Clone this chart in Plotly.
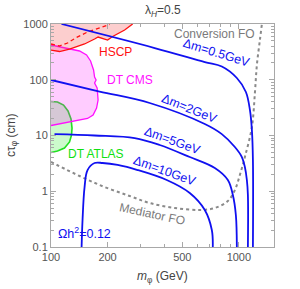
import plotly.graph_objects as go

# ---------------- data (m_phi in GeV, c*tau in cm) ----------------
dm05_m = [113.7, 356.5, 658.6, 811.6, 975.7, 1090, 1145, 1173, 1188, 1188]
dm05_ct = [1000, 371, 208, 172.8, 107.5, 60.3, 28.7, 12.55, 3.64, 0.1]

dm2_m = [100, 181.4, 335.2, 658.6, 811.6, 952.2, 1037.5, 1076.5, 1103, 1117, 1117]
dm2_ct = [99, 61.5, 38.3, 16.1, 10.6, 6.22, 4.11, 2.72, 1.59, 0.857, 0.1]

dm5_m = [104.4, 170.6, 278.8, 379, 547.8, 744.7, 873.7, 929, 963.8, 975.7]
dm5_ct = [10.6, 10, 9.0, 6.76, 4.11, 2.61, 1.59, 0.857, 0.375, 0.1]

dm10_m = [145.5, 147.2, 150.9, 156.5, 170.6, 188.2, 226.2, 289.3, 413, 547.8, 658.6, 717.8, 726.4]
dm10_ct = [0.1, 0.305, 1.19, 2.40, 3.21, 3.21, 2.96, 2.40, 1.59, 0.93, 0.461, 0.202, 0.1]

fo_m = [100, 141.9, 192.9, 262.2, 335.2, 455.7, 619.4, 744.7, 873.7, 952.2, 1012, 1076.5, 1173, 1217, 1247, 1294, 1326]
fo_ct = [3.35, 1.877, 1.19, 0.822, 0.615, 0.501, 0.461, 0.501, 0.668, 1.05, 1.95, 4.11, 14.2, 57.8, 184, 516, 1000]

hscp_m = [100, 111, 125.5, 150.9, 170.6, 178.1, 200.1, 212.8, 246.6, 272, 100]
hscp_ct = [341, 321, 356, 438, 538, 584, 516, 597, 780, 1000, 1000]

hscp_dash_m = [100, 111, 122.5, 135.1, 156.5, 181.4, 205.1]
hscp_dash_ct = [438, 403, 456, 561, 718, 848, 980]

cms_m = [100, 108.3, 125.5, 141.9, 154.6, 162.4, 168.5, 170.6, 173.8, 170.6, 176, 178.1,
         174.8, 167.5, 156.5, 125.5, 100]
cms_ct = [420, 395, 363.6, 328, 278, 217, 150, 112, 99, 87.4, 71.1, 43.3,
          31.1, 23.3, 20.2, 17.5, 15.1]

atlas_m = [100, 108.3, 116.6, 123.2, 127.8, 129.4, 128.6, 125.5, 118, 108.3, 100]
atlas_ct = [40.7, 39.9, 35.2, 27.5, 19.8, 13.6, 10.2, 7.65, 5.97, 5.27, 4.96]

x_major = [100, 200, 500, 1000]
x_minor = [300, 400, 600, 700, 800, 900]
y_major = [0.1, 1, 10, 100, 1000]
y_major_text = ["0.1", "1", "10", "100", "1000"]
y_minor = [m * 10 ** e for e in range(-1, 3) for m in range(2, 10)]

BLUE = "#1010f0"
GRAY = "#8a8a8a"

fig = go.Figure()

# regions (green first so magenta blends over it)
fig.add_trace(go.Scatter(x=atlas_m, y=atlas_ct, mode="lines", fill="toself",
                         fillcolor="rgba(0,230,0,0.2)",
                         line=dict(color="#22e022", width=1.6)))
fig.add_trace(go.Scatter(x=cms_m, y=cms_ct, mode="lines", fill="toself",
                         fillcolor="rgba(255,0,255,0.2)",
                         line=dict(color="#ff10ff", width=1.3)))
fig.add_trace(go.Scatter(x=hscp_m, y=hscp_ct, mode="lines", fill="toself",
                         fillcolor="rgba(245,60,60,0.25)",
                         line=dict(color="rgba(0,0,0,0)", width=0)))
fig.add_trace(go.Scatter(x=hscp_m[:-1], y=hscp_ct[:-1], mode="lines",
                         line=dict(color="#ff1010", width=1.3)))
fig.add_trace(go.Scatter(x=hscp_dash_m, y=hscp_dash_ct, mode="lines",
                         line=dict(color="#ff1010", width=1.3, dash="4px,3px")))

# freeze-out boundary
fig.add_trace(go.Scatter(x=fo_m, y=fo_ct, mode="lines", line_shape="spline",
                         line=dict(color=GRAY, width=2, dash="dot")))

# relic-density contours
for xs, ys in [(dm05_m, dm05_ct), (dm2_m, dm2_ct), (dm5_m, dm5_ct), (dm10_m, dm10_ct)]:
    fig.add_trace(go.Scatter(x=xs, y=ys, mode="lines", line_shape="spline",
                             line=dict(color=BLUE, width=1.8)))

FONT = "Liberation Sans, Arial, sans-serif"


def label(text, x, y, color, size=12, angle=0):
    fig.add_annotation(text=text, x=x, y=y, xref="paper", yref="paper",
                       xanchor="center", yanchor="middle",
                       showarrow=False, textangle=angle,
                       font=dict(family=FONT, size=size, color=color))


label("HSCP", 0.291, 0.874, "#ff1010")
label("DT CMS", 0.354, 0.749, "#ff10ff")
label("DT ATLAS", 0.202, 0.417, "#10e010")
label("Conversion FO", 0.731, 0.955, "#7a7a7a")
label("Mediator FO", 0.453, 0.150, "#7a7a7a", angle=12)
label("Ωh<sup>2</sup>=0.12", 0.152, 0.063, BLUE, size=12.5)
label("Δm=0.5GeV", 0.744, 0.870, BLUE, size=12.5, angle=17)
label("Δm=2GeV", 0.623, 0.619, BLUE, size=12.5, angle=22)
label("Δm=5GeV", 0.547, 0.475, BLUE, size=12.5, angle=20)
label("Δm=10GeV", 0.511, 0.341, BLUE, size=12.5, angle=20)

# title and axis titles
label("λ<sub><i>H</i></sub>=0.5", 0.5, 1.058, "#444444", size=12)
label("<i>m</i><sub>φ</sub> (GeV)", 0.5, -0.1345, "#444444", size=12)
label("cτ<sub>φ</sub> (cm)", -0.175, 0.502, "#444444", size=12, angle=-90)

axis_common = dict(showgrid=False, zeroline=False, showline=True, linecolor="#a8a8a8",
                   linewidth=1, mirror="allticks", ticks="inside", ticklen=5,
                   tickcolor="#a8a8a8", tickwidth=1,
                   tickfont=dict(family=FONT, size=11, color="#555555"))

fig.update_layout(
    width=300, height=289,
    margin=dict(l=51, r=26, t=24, b=42),
    paper_bgcolor="white", plot_bgcolor="white",
    showlegend=False,
    xaxis=dict(type="log", range=[2, 3.187], tickmode="array", tickvals=x_major,
               ticktext=[str(v) for v in x_major],
               minor=dict(tickmode="array", tickvals=x_minor, ticks="inside",
                          ticklen=3, tickcolor="#a8a8a8", showgrid=False),
               **axis_common),
    yaxis=dict(type="log", range=[-1, 3], tickmode="array", tickvals=y_major,
               ticktext=y_major_text,
               minor=dict(tickmode="array", tickvals=y_minor, ticks="inside",
                          ticklen=3, tickcolor="#a8a8a8", showgrid=False),
               **axis_common),
)

fig.write_html("out.html", config={"displayModeBar": False},
               post_script="document.body.style.margin='0px';")
